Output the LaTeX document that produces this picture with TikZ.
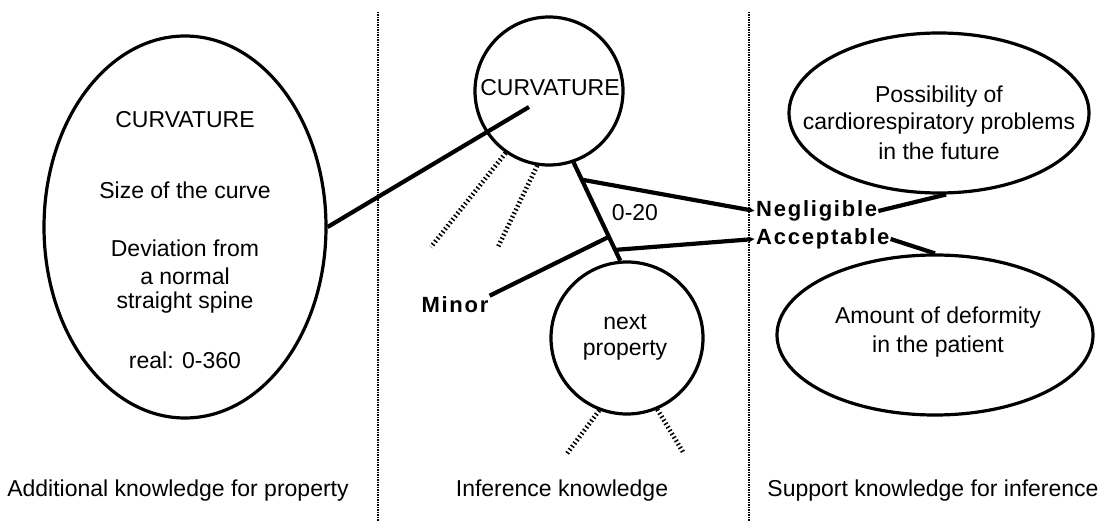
\documentclass[tikz,border=0pt]{standalone}
\usepackage{fontspec}
\setmainfont{Liberation Sans}
\newfontfamily\valfont[LetterSpace=8]{Liberation Sans}
\usetikzlibrary{shapes.geometric,arrows.meta}

\tikzset{
  blob/.style={draw,line width=3.2pt,ellipse,inner sep=0pt},
  prop/.style={draw,line width=3.2pt,circle,inner sep=0pt},
  link/.style={line width=4.2pt},
  ray/.style={line width=4.6pt,dash pattern=on 1.5pt off 2.5pt},
  sep/.style={line width=2.4pt,dash pattern=on 1.2pt off 1.3pt},
  txt/.style={font=\fontsize{23}{27}\selectfont,inner sep=0pt},
  val/.style={font=\valfont\bfseries\fontsize{22}{26}\selectfont,inner sep=1pt},
}

\begin{document}
\begin{tikzpicture}[x=1pt,y=-1pt]
\useasboundingbox (0,0) rectangle (1109,521);

% column separators
\coordinate (s1) at (378,12);
\coordinate (s2) at (378,521);
\coordinate (s3) at (749,12);
\coordinate (s4) at (749,521);
\draw[sep] (s1) -- (s2);
\draw[sep] (s3) -- (s4);

% additional knowledge
\node[blob,minimum width=282pt,minimum height=382pt] (lell) at (185,227) {};
\node[txt] (l1) at (185,120) {CURVATURE};
\node[txt] (l2) at (185,190) {Size of the curve};
\node[txt] (l3) at (185,248) {Deviation from};
\node[txt] (l4) at (185,276) {a normal};
\node[txt] (l5) at (185,303) {straight spine};
\node[txt] (l6) at (185,360) {real: 0-360};

% inference knowledge
\node[prop,minimum size=148pt] (curv) at (549,91) {};
\node[txt] (c1) at (550,88) {CURVATURE};
\node[prop,minimum size=152pt] (next) at (627,338) {};
\node[txt] (n1) at (625,322) {next};
\node[txt] (n2) at (625,350) {property};
\coordinate (cin) at (529,107);
\draw[link] (lell.east) -- (cin);
\draw[link] (curv.-71) -- (next.95);
\path (curv.-71) -- (next.95)
  coordinate[pos=0.175] (b1)
  coordinate[pos=0.757] (b3)
  coordinate[pos=0.89] (b2);
\node[txt] (rng) at (635,213) {0-20};
\node[val,anchor=west] (negl) at (755,211) {Negligible};
\node[val,anchor=west] (acc) at (755,239) {Acceptable};
\node[val] (minor) at (455,305) {Minor};
\draw[link,-{Latex[length=6pt,width=6pt]}] (b1) -- (negl.west);
\draw[link,-{Latex[length=6pt,width=6pt]}] (b2) -- (acc.west);
\draw[link] (b3) -- (minor.15);

% unexplored branches
\coordinate (r1) at (431,247);
\coordinate (r2) at (498,247);
\coordinate (r3) at (566,455);
\coordinate (r4) at (683,452);
\draw[ray] (curv.235) -- (r1);
\draw[ray] (curv.261) -- (r2);
\draw[ray] (next.249) -- (r3);
\draw[ray] (next.293) -- (r4);

% support knowledge
\node[blob,minimum width=300pt,minimum height=160pt] (tell) at (939,113) {};
\node[txt] (p1) at (939,97) {Possibility of};
\node[txt] (p2) at (939,124) {cardiorespiratory problems};
\node[txt] (p3) at (939,151) {in the future};
\node[blob,minimum width=316pt,minimum height=160pt] (bell) at (935,335) {};
\node[txt] (d1) at (938,318) {Amount of deformity};
\node[txt] (d2) at (938,347) {in the patient};
\draw[link] (negl.east) -- (tell.-85);
\draw[link] (acc.east) -- (bell.north);

% column titles
\node[txt] (h1) at (178,491) {Additional knowledge for property};
\node[txt] (h2) at (562,491) {Inference knowledge};
\node[txt] (h3) at (933,491) {Support knowledge for inference};
\end{tikzpicture}
\end{document}
